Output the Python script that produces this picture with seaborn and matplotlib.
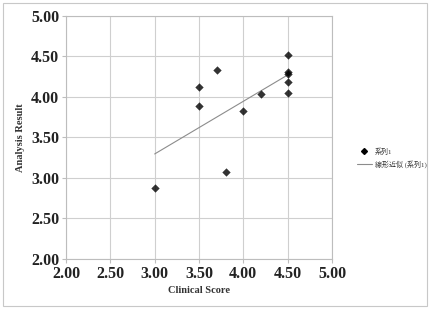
import numpy as np
import pandas as pd
import seaborn as sns
import matplotlib.pyplot as plt
from matplotlib.lines import Line2D
from matplotlib.patches import Rectangle

# data
clinical = [3.0, 3.5, 3.5, 3.7, 3.8, 4.0, 4.2, 4.5, 4.5, 4.5, 4.5, 4.5]
analysis = [2.87, 4.12, 3.88, 4.33, 3.07, 3.82, 4.03, 4.52, 4.30, 4.28, 4.18, 4.05]
ticks = [2.0, 2.5, 3.0, 3.5, 4.0, 4.5, 5.0]
series_name = '系列1'
trend_name = '線形近似 (系列1)'

df = pd.DataFrame({'Clinical Score': clinical, 'Analysis Result': analysis})

sns.set_style('white')
plt.rcParams['font.family'] = ['Liberation Serif', 'Noto Sans CJK JP', 'DejaVu Sans']

fig = plt.figure(figsize=(4.3, 3.09), dpi=100)
ax = fig.add_axes([0.1535, 0.163, 0.6185, 0.786])

# scatter points and linear trend line
sns.regplot(data=df, x='Clinical Score', y='Analysis Result', ax=ax, ci=None,
            marker='D', color='black',
            scatter_kws={'s': 18, 'linewidths': 0, 'zorder': 3},
            line_kws={'color': '#8c8c8c', 'linewidth': 0.8, 'zorder': 2})

ax.set_xlim(2, 5)
ax.set_ylim(2, 5)
ax.set_xticks(ticks)
ax.set_yticks(ticks)
ax.set_xticklabels([f'{t:.2f}' for t in ticks])
ax.set_yticklabels([f'{t:.2f}' for t in ticks])
ax.grid(True, color='#cfcfcf', linewidth=0.8)
ax.set_axisbelow(True)
for s in ax.spines.values():
    s.set_color('#bdbdbd')
    s.set_linewidth(0.8)
ax.tick_params(axis='both', which='major', labelsize=11.5, length=3,
               color='#bdbdbd', direction='out', pad=2)
ax.tick_params(axis='x', bottom=True)
ax.tick_params(axis='y', left=True)
for lab in ax.get_xticklabels() + ax.get_yticklabels():
    lab.set_fontweight('bold')
    lab.set_color('#222222')
ax.set_xlabel('Clinical Score', fontsize=7.5, fontweight='bold', color='#333333', labelpad=3)
ax.set_ylabel('Analysis Result', fontsize=7.5, fontweight='bold', color='#333333', labelpad=4)

handles = [
    Line2D([], [], marker='D', color='black', linestyle='none', markersize=3),
    Line2D([], [], color='#8c8c8c', linewidth=0.8),
]
fig.legend(handles, [series_name, trend_name], loc='center left',
           bbox_to_anchor=(0.815, 0.49), frameon=False, fontsize=5,
           handlelength=2.2, handletextpad=0.4, labelspacing=0.8,
           labelcolor='#333333')

# outer border of the chart area
fig.add_artist(Rectangle((0.007, 0.01), 0.986, 0.98, transform=fig.transFigure,
                         fill=False, edgecolor='#c8c8c8', linewidth=0.8))

fig.savefig('out.png', dpi=100)
